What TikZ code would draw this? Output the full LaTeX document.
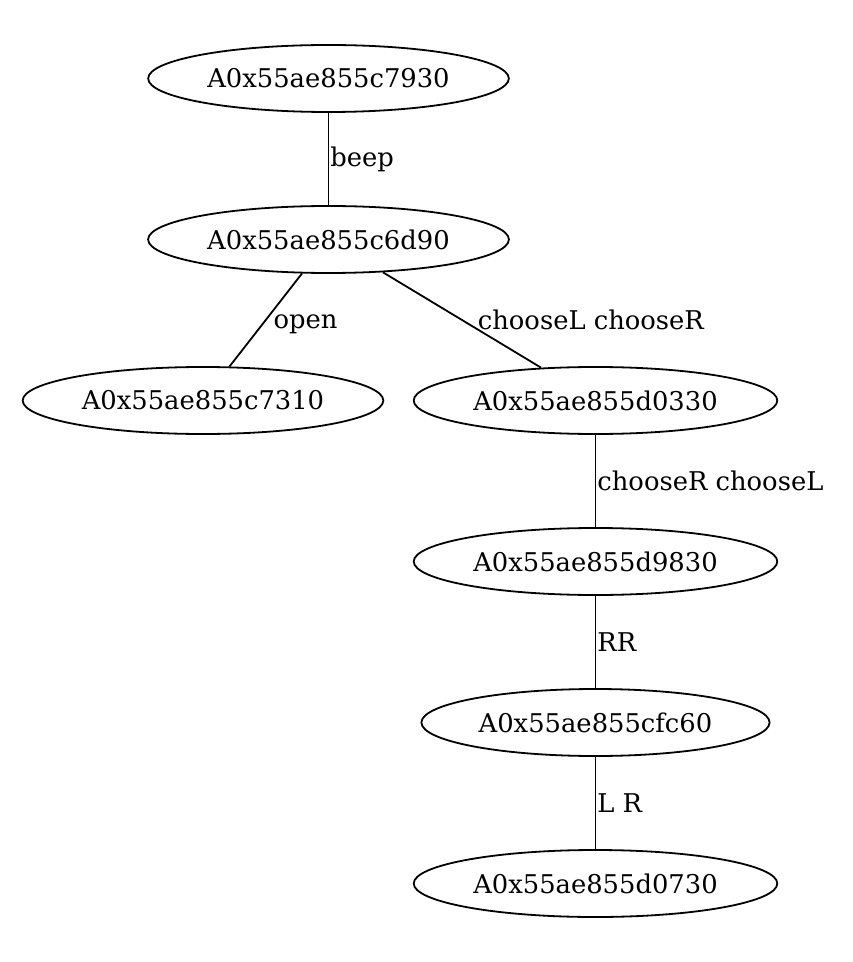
\documentclass[tikz,border=0pt]{standalone}
\usepackage{fontspec}
\setmainfont{DejaVu Serif}
\usetikzlibrary{shapes.geometric}

\begin{document}
\begin{tikzpicture}[x=0.5pt,y=-0.5pt,line width=0.9pt,
    state/.style={draw,ellipse,inner xsep=3.15pt,inner ysep=0pt,minimum height=33.5pt,font=\fontsize{12.9}{15}\selectfont},
    lbl/.style={anchor=west,inner sep=0.5pt,font=\fontsize{12.9}{15}\selectfont}]
    \useasboundingbox (0,0) rectangle (852,962);
    \node[state] (n7930) at (328.5,78.5) {A0x55ae855c7930};
    \node[state] (n6d90) at (328.5,239.5) {A0x55ae855c6d90};
    \node[state] (n7310) at (203,400.5) {A0x55ae855c7310};
    \node[state] (n0330) at (595.5,400.5) {A0x55ae855d0330};
    \node[state] (n9830) at (595.5,561.5) {A0x55ae855d9830};
    \node[state] (nfc60) at (595.5,722.5) {A0x55ae855cfc60};
    \node[state] (n0730) at (595.5,883.5) {A0x55ae855d0730};

    \draw (n7930) -- node[lbl] {beep} (n6d90);
    \draw (n6d90) -- node[lbl,xshift=3pt,yshift=-2pt] {open} (n7310);
    \draw (n6d90) -- node[lbl,xshift=7pt] {chooseL chooseR} (n0330);
    \draw (n0330) -- node[lbl] {chooseR chooseL} (n9830);
    \draw (n9830) -- node[lbl] {RR} (nfc60);
    \draw (nfc60) -- node[lbl] {L R} (n0730);
\end{tikzpicture}
\end{document}
